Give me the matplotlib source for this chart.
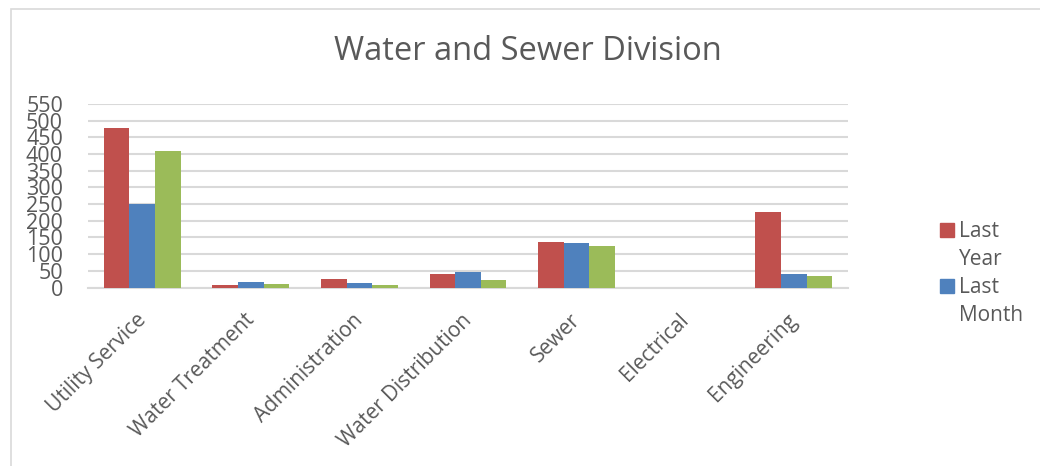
import numpy as np
import matplotlib
matplotlib.use('Agg')
import matplotlib.pyplot as plt
import matplotlib.transforms as mtransforms
from matplotlib.patches import Rectangle

plt.rcParams['font.family'] = ['Open Sans', 'DejaVu Sans']

categories = ['Utility Service', 'Water Treatment', 'Administration',
              'Water Distribution', 'Sewer', 'Electrical', 'Engineering']
last_year = [478, 7, 24, 39, 137, 0, 226]
last_month = [251, 16, 12, 47, 132, 0, 40]
third = [410, 10, 7, 21, 125, 0, 34]
series_labels = ['Last\nYear', 'Last\nMonth']
yticks = list(range(0, 551, 50))

colors = ['#C0504D', '#4F81BD', '#9BBB59']
text_color = '#595959'

fig = plt.figure(figsize=(10.4, 4.66), dpi=100)
ax = fig.add_axes([88 / 1040, 1 - 287.5 / 466, 760 / 1040, 183.5 / 466])

x = np.arange(len(categories))
w = 0.236
b1 = ax.bar(x - w, last_year, w, color=colors[0], zorder=3)
b2 = ax.bar(x, last_month, w, color=colors[1], zorder=3)
b3 = ax.bar(x + w, third, w, color=colors[2], zorder=3)

ax.set_xlim(-0.5, len(categories) - 0.5)
ax.set_ylim(0, 550)
ax.set_yticks(yticks)
ax.set_yticklabels([str(v) for v in yticks], fontsize=15.5, color=text_color)
ax.grid(axis='y', color='#d9d9d9', linewidth=1.5, zorder=0)
ax.set_axisbelow(True)
for s in ['top', 'right', 'left']:
    ax.spines[s].set_visible(False)
ax.spines['bottom'].set_color('#d9d9d9')
ax.spines['bottom'].set_linewidth(1.5)
ax.tick_params(axis='both', length=0)
ax.tick_params(axis='y', pad=18)
ax.tick_params(axis='x', pad=16)

ax.set_xticks(x)
ax.set_xticklabels(categories, rotation=45, ha='right', rotation_mode='anchor',
                   fontsize=15, color=text_color)
shift = mtransforms.ScaledTranslation(-7 / 100, 0, fig.dpi_scale_trans)
for lbl in ax.get_xticklabels():
    lbl.set_transform(lbl.get_transform() + shift)

fig.text(528 / 1040, 1 - 52 / 466, 'Water and Sewer Division', ha='center',
         va='center', fontsize=23.5, color=text_color)

# legend drawn by hand so the key sits beside the first line of each label
for i, (lab, c) in enumerate(zip(series_labels, colors)):
    top = 223 + i * 56
    fig.patches.append(Rectangle((940 / 1040, 1 - (top + 13.5) / 466),
                                 13.5 / 1040, 13.5 / 466,
                                 transform=fig.transFigure, color=c))
    fig.text(959 / 1040, 1 - (top - 2) / 466, lab, ha='left', va='top',
             fontsize=15, color=text_color, linespacing=1.45)

# chart area border
fig.patches.append(Rectangle((11 / 1040, -0.1), 1.2, 1 - 9 / 466 + 0.1,
                             transform=fig.transFigure, fill=False,
                             edgecolor='#d9d9d9', linewidth=1.2))

fig.savefig('out.png', dpi=100)
